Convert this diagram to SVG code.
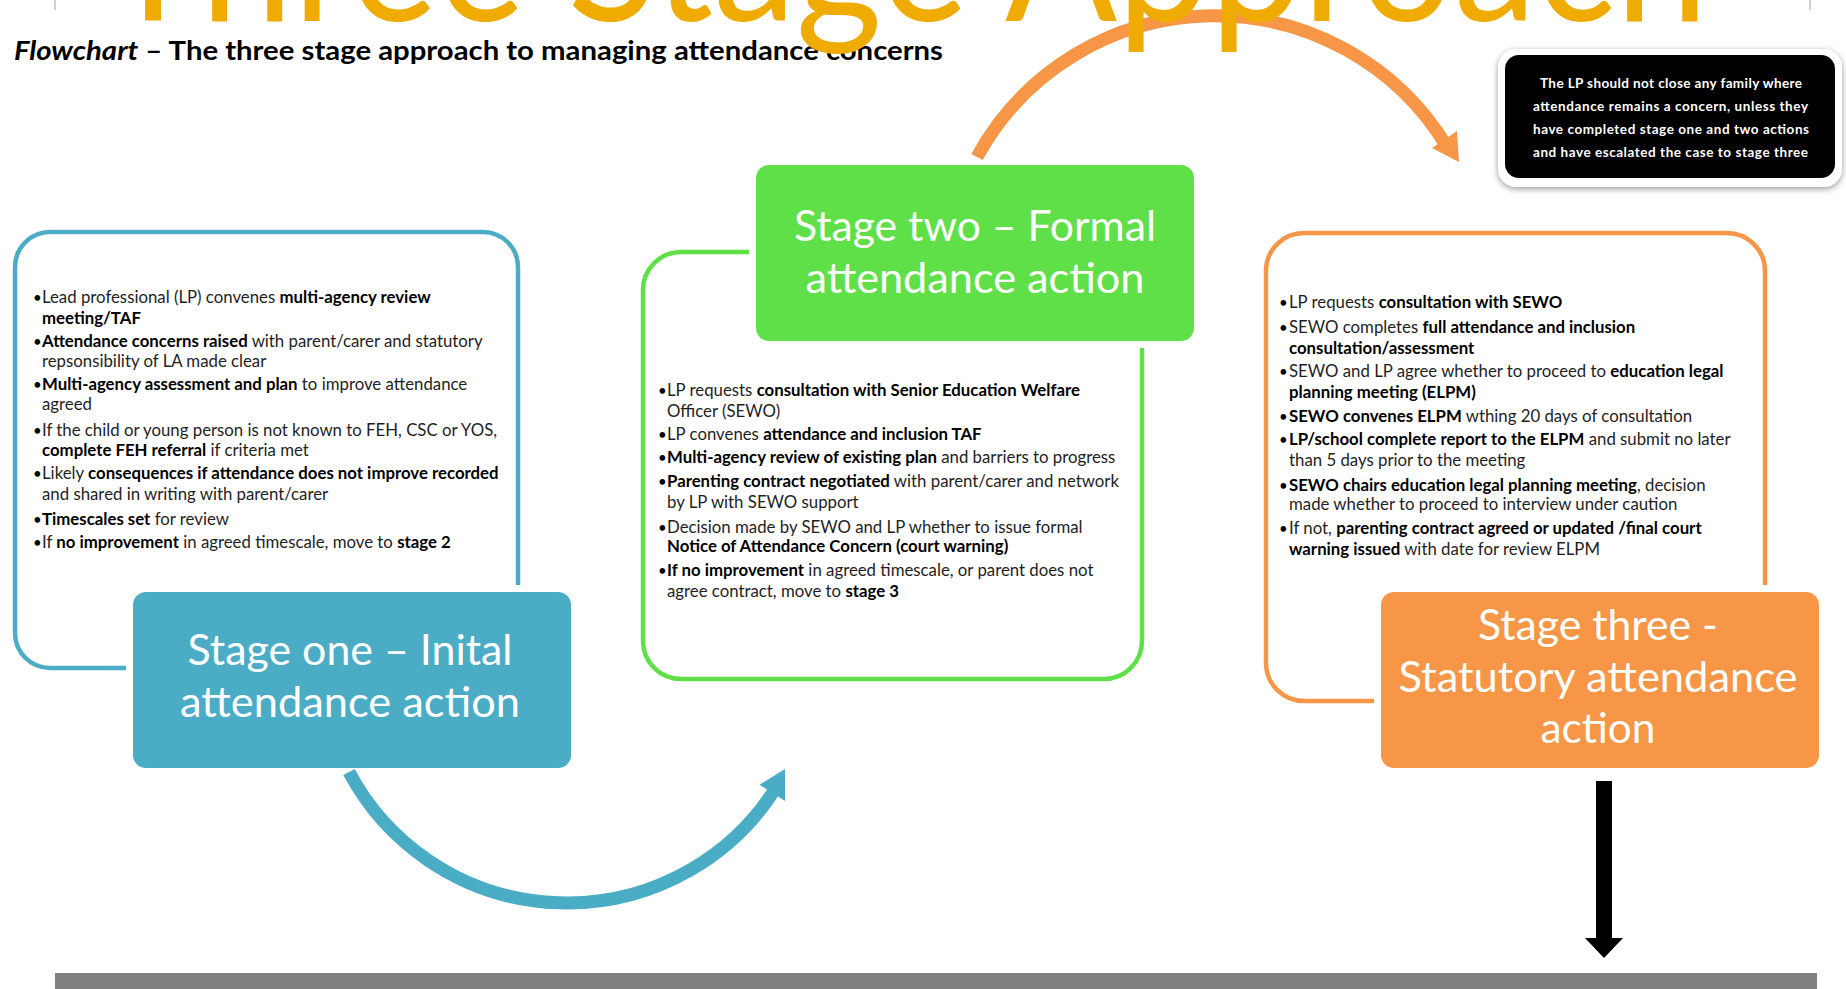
<svg xmlns="http://www.w3.org/2000/svg" width="1846" height="989" viewBox="0 0 1846 989">
  <defs>
    <filter id="noteShadow" x="-10%" y="-20%" width="120%" height="140%">
      <feDropShadow dx="0" dy="2" stdDeviation="3" flood-color="#808080" flood-opacity="0.8"/>
    </filter>
    <style>
      .frame { fill: #ffffff; stroke-width: 4.5; }
      .head { stroke: #ffffff; stroke-width: 14; paint-order: stroke; }
      .htxt { font-family: Lato, "Open Sans", "Liberation Sans", sans-serif; font-size: 43px; fill: #ffffff; text-anchor: middle; }
      .body { font-family: Lato, "Open Sans", "Liberation Sans", sans-serif; font-size: 16.8px; fill: #1e1e1e; }
      .dot { font-family: Lato, "Open Sans", "Liberation Sans", sans-serif; font-size: 15px; fill: #000000; }
      .b { font-weight: bold; fill: #000000; }
      .note { font-family: Lato, "Open Sans", "Liberation Sans", sans-serif; font-size: 13.5px; font-weight: bold; fill: #ffffff; }
      .arc { fill: none; stroke-width: 13; stroke-linecap: butt; }
    </style>
  </defs>

  <rect width="1846" height="989" fill="#ffffff"/>

  <!-- slide edge marks and footer bar -->
  <line x1="55" y1="0" x2="55" y2="10" stroke="#a0a0a0" stroke-width="1"/>
  <line x1="1810" y1="0" x2="1810" y2="10" stroke="#a0a0a0" stroke-width="1"/>
  <rect x="55" y="973" width="1762" height="16" fill="#808080"/>

  <!-- subtitle -->
  <text x="14" y="60" font-family="Lato, 'Open Sans', 'Liberation Sans', sans-serif" font-size="27" font-weight="bold" fill="#000" textLength="929" lengthAdjust="spacingAndGlyphs"><tspan font-style="italic">Flowchart</tspan> – The three stage approach to managing attendance concerns</text>

  <!-- Stage one -->
  <g id="stage1">
    <rect class="frame" x="15" y="232" width="503" height="436" rx="35" stroke="#4BACC6"/>
    <g class="dot">
      <text x="33" y="303">•</text><text x="33" y="347">•</text><text x="33" y="390">•</text><text x="33" y="436">•</text>
      <text x="33" y="479">•</text><text x="33" y="525">•</text><text x="33" y="548">•</text>
    </g>
    <g class="body">
      <text x="42" y="303">Lead professional (LP) convenes <tspan class="b">multi-agency review</tspan></text>
      <text x="42" y="324"><tspan class="b">meeting/TAF</tspan></text>
      <text x="42" y="347"><tspan class="b">Attendance concerns raised</tspan> with parent/carer and statutory</text>
      <text x="42" y="367">repsonsibility of LA made clear</text>
      <text x="42" y="390"><tspan class="b">Multi-agency assessment and plan</tspan> to improve attendance</text>
      <text x="42" y="410">agreed</text>
      <text x="42" y="436">If the child or young person is not known to FEH, CSC or YOS,</text>
      <text x="42" y="456"><tspan class="b">complete FEH referral</tspan> if criteria met</text>
      <text x="42" y="479">Likely <tspan class="b">consequences if attendance does not improve recorded</tspan></text>
      <text x="42" y="500">and shared in writing with parent/carer</text>
      <text x="42" y="525"><tspan class="b">Timescales set</tspan> for review</text>
      <text x="42" y="548">If <tspan class="b">no improvement</tspan> in agreed timescale, move to <tspan class="b">stage 2</tspan></text>
    </g>
    <rect class="head" x="133" y="592" width="438" height="176" rx="13" fill="#4BACC6"/>
    <text class="htxt" x="350" y="665" textLength="325" lengthAdjust="spacingAndGlyphs">Stage one – Inital</text>
    <text class="htxt" x="350" y="717" textLength="340" lengthAdjust="spacingAndGlyphs">attendance action</text>
  </g>

  <!-- Stage two -->
  <g id="stage2">
    <rect class="frame" x="643" y="252" width="499" height="427" rx="38" stroke="#60E048"/>
    <g class="dot">
      <text x="658" y="396">•</text><text x="658" y="440">•</text><text x="658" y="463">•</text>
      <text x="658" y="487">•</text><text x="658" y="533">•</text><text x="658" y="576">•</text>
    </g>
    <g class="body">
      <text x="667" y="396">LP requests <tspan class="b">consultation with Senior Education Welfare</tspan></text>
      <text x="667" y="417">Officer (SEWO)</text>
      <text x="667" y="440">LP convenes <tspan class="b">attendance and inclusion TAF</tspan></text>
      <text x="667" y="463"><tspan class="b">Multi-agency review of existing plan</tspan> and barriers to progress</text>
      <text x="667" y="487"><tspan class="b">Parenting contract negotiated</tspan> with parent/carer and network</text>
      <text x="667" y="508">by LP with SEWO support</text>
      <text x="667" y="533">Decision made by SEWO and LP whether to issue formal</text>
      <text x="667" y="552"><tspan class="b">Notice of Attendance Concern (court warning)</tspan></text>
      <text x="667" y="576"><tspan class="b">If no improvement</tspan> in agreed timescale, or parent does not</text>
      <text x="667" y="597">agree contract, move to <tspan class="b">stage 3</tspan></text>
    </g>
    <rect class="head" x="756" y="165" width="438" height="176" rx="13" fill="#60E048"/>
    <text class="htxt" x="975" y="241" textLength="362" lengthAdjust="spacingAndGlyphs">Stage two – Formal</text>
    <text class="htxt" x="975" y="293" textLength="339" lengthAdjust="spacingAndGlyphs">attendance action</text>
  </g>

  <!-- Stage three -->
  <g id="stage3">
    <rect class="frame" x="1266" y="233" width="499" height="468" rx="38" stroke="#F79646"/>
    <g class="dot">
      <text x="1279" y="308">•</text><text x="1279" y="333">•</text><text x="1279" y="377">•</text><text x="1279" y="422">•</text>
      <text x="1279" y="445">•</text><text x="1279" y="491">•</text><text x="1279" y="534">•</text>
    </g>
    <g class="body">
      <text x="1289" y="308">LP requests <tspan class="b">consultation with SEWO</tspan></text>
      <text x="1289" y="333">SEWO completes <tspan class="b">full attendance and inclusion</tspan></text>
      <text x="1289" y="354"><tspan class="b">consultation/assessment</tspan></text>
      <text x="1289" y="377">SEWO and LP agree whether to proceed to <tspan class="b">education legal</tspan></text>
      <text x="1289" y="398"><tspan class="b">planning meeting (ELPM)</tspan></text>
      <text x="1289" y="422"><tspan class="b">SEWO convenes ELPM</tspan> wthing 20 days of consultation</text>
      <text x="1289" y="445"><tspan class="b">LP/school complete report to the ELPM</tspan> and submit no later</text>
      <text x="1289" y="466">than 5 days prior to the meeting</text>
      <text x="1289" y="491"><tspan class="b">SEWO chairs education legal planning meeting</tspan>, decision</text>
      <text x="1289" y="510">made whether to proceed to interview under caution</text>
      <text x="1289" y="534">If not, <tspan class="b">parenting contract agreed or updated /final court</tspan></text>
      <text x="1289" y="555"><tspan class="b">warning issued</tspan> with date for review ELPM</text>
    </g>
    <rect class="head" x="1381" y="592" width="438" height="176" rx="13" fill="#F79646"/>
    <text class="htxt" x="1598" y="640" textLength="240" lengthAdjust="spacingAndGlyphs">Stage three -</text>
    <text class="htxt" x="1598" y="692" textLength="399" lengthAdjust="spacingAndGlyphs">Statutory attendance</text>
    <text class="htxt" x="1598" y="743" textLength="115" lengthAdjust="spacingAndGlyphs">action</text>
  </g>

  <!-- Closing note -->
  <g id="note">
    <rect x="1498" y="49" width="344" height="138" rx="18" fill="#ffffff" filter="url(#noteShadow)"/>
    <rect x="1505" y="55" width="330" height="123" rx="14" fill="#000000"/>
    <text class="note" x="1540" y="88" textLength="262" lengthAdjust="spacing">The LP should not close any family where</text>
    <text class="note" x="1533" y="111" textLength="275" lengthAdjust="spacing">attendance remains a concern, unless they</text>
    <text class="note" x="1533" y="134" textLength="276" lengthAdjust="spacing">have completed stage one and two actions</text>
    <text class="note" x="1533" y="157" textLength="275" lengthAdjust="spacing">and have escalated the case to stage three</text>
  </g>

  <!-- Connectors -->
  <g id="connectors">
    <path class="arc" d="M 349 772 A 247 247 0 0 0 776.5 786.9" stroke="#4BACC6"/>
    <polygon points="785,769 785,801 759.5,784.7" fill="#4BACC6"/>
    <path class="arc" d="M 977 157 A 271 271 0 0 1 1447.3 147.4" stroke="#F79646"/>
    <polygon points="1459,162 1457,131 1432,148" fill="#F79646"/>
    <rect x="1596" y="781" width="16" height="159" fill="#000000"/>
    <polygon points="1585,938 1623,938 1604,958" fill="#000000"/>
  </g>

  <!-- heading, drawn over everything -->
  <text x="104" y="21" font-family="Lato, 'Open Sans', 'Liberation Sans', sans-serif" font-size="178" fill="#F0AB00" textLength="1604" lengthAdjust="spacingAndGlyphs">Three Stage Approach</text>
</svg>
